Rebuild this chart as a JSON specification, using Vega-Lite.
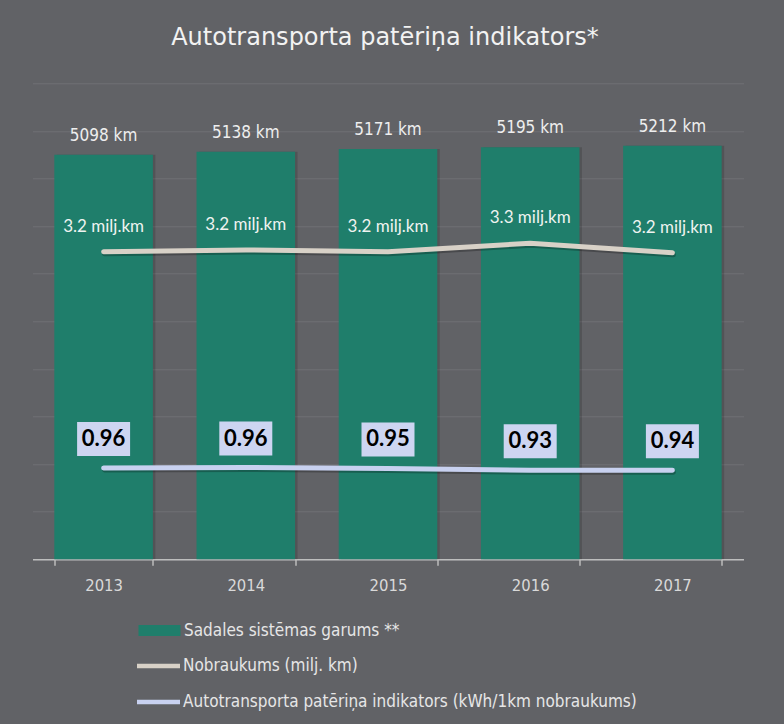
{
  "$schema": "https://vega.github.io/schema/vega-lite/v6.json",
  "width": 711,
  "height": 476,
  "autosize": {"type": "none"},
  "padding": {"left": 32.5, "top": 83.3, "right": 40.5, "bottom": 164.7},
  "background": "#616266",
  "title": {
    "text": "Autotransporta patēriņa indikators*",
    "font": "DejaVu Sans",
    "fontSize": 24,
    "fontWeight": "normal",
    "color": "#F2F2F2",
    "anchor": "middle",
    "baseline": "alphabetic",
    "offset": 14,
    "dx": -3
  },
  "data": {
    "values": [
      {"year": "2013", "km": 5098, "kmLabel": "5098 km", "nob": 3.23, "nobLabel": "3.2 milj.km", "ind": 0.958, "indLabel": "0.96"},
      {"year": "2014", "km": 5138, "kmLabel": "5138 km", "nob": 3.25, "nobLabel": "3.2 milj.km", "ind": 0.964, "indLabel": "0.96"},
      {"year": "2015", "km": 5171, "kmLabel": "5171 km", "nob": 3.23, "nobLabel": "3.2 milj.km", "ind": 0.954, "indLabel": "0.95"},
      {"year": "2016", "km": 5195, "kmLabel": "5195 km", "nob": 3.32, "nobLabel": "3.3 milj.km", "ind": 0.935, "indLabel": "0.93"},
      {"year": "2017", "km": 5212, "kmLabel": "5212 km", "nob": 3.22, "nobLabel": "3.2 milj.km", "ind": 0.936, "indLabel": "0.94"}
    ]
  },
  "encoding": {
    "x": {
      "field": "year",
      "type": "ordinal",
      "scale": {"paddingInner": 0.307, "paddingOuter": 0.1535},
      "axis": {
        "title": null,
        "labelAngle": 0,
        "labelFont": "DejaVu Sans Condensed, Liberation Sans Narrow, sans-serif",
        "labelFontSize": 16.5,
        "labelColor": "#D9D9D9",
        "labelPadding": 12,
        "domainColor": "#BDBDBD",
        "domainWidth": 1.5,
        "tickColor": "#BDBDBD",
        "tickWidth": 1.5,
        "tickSize": 6,
        "tickBand": "extent",
        "grid": false
      }
    }
  },
  "layer": [
    {
      "encoding": {
        "y": {
          "field": "km",
          "type": "quantitative",
          "scale": {"domain": [0, 6000], "nice": false},
          "axis": {
            "values": [0, 600, 1200, 1800, 2400, 3000, 3600, 4200, 4800, 5400, 6000],
            "grid": true,
            "gridColor": "#707175",
            "gridWidth": 1,
            "labels": false,
            "ticks": false,
            "domain": false,
            "title": null
          }
        }
      },
      "layer": [
        {"mark": {"type": "bar", "color": "#000000", "opacity": 0.15, "xOffset": 2.5}},
        {
          "mark": {"type": "bar", "opacity": 1},
          "encoding": {
            "fill": {
              "datum": "Sadales sistēmas garums **",
              "type": "nominal",
              "scale": {"domain": ["Sadales sistēmas garums **"], "range": ["#1F7E6B"]},
              "legend": {
                "orient": "none",
                "legendX": 118.5,
                "legendY": 538.7,
                "title": null,
                "padding": 0,
                "symbolType": "M-2.625,-0.6875L2.625,-0.6875L2.625,0.6875L-2.625,0.6875Z",
                "symbolSize": 256,
                "symbolStrokeWidth": 0,
                "symbolOpacity": 1,
                "labelFont": "DejaVu Sans Condensed, Liberation Sans Narrow, sans-serif",
                "labelFontSize": 17,
                "labelColor": "#E6E6E6",
                "labelOffset": 16,
                "labelLimit": 0
              }
            }
          }
        },
        {
          "mark": {
            "type": "text",
            "font": "DejaVu Sans Condensed, Liberation Sans Narrow, sans-serif",
            "fontSize": 17,
            "color": "#EEEEEE",
            "baseline": "alphabetic",
            "dy": -14
          },
          "encoding": {"text": {"field": "kmLabel"}}
        }
      ]
    },
    {
      "layer": [
        {
          "mark": {"type": "line", "color": "#000000", "opacity": 0.25, "strokeWidth": 5, "strokeCap": "round", "yOffset": 2, "xOffset": 1},
          "encoding": {"y": {"field": "nob", "type": "quantitative", "scale": {"domain": [0, 5], "nice": false}, "axis": null}}
        },
        {
          "mark": {"type": "line", "strokeWidth": 5, "strokeCap": "round"},
          "encoding": {
            "y": {"field": "nob", "type": "quantitative", "scale": {"domain": [0, 5], "nice": false}, "axis": null},
            "stroke": {
              "datum": "Nobraukums (milj. km)",
              "type": "nominal",
              "scale": {
                "domain": ["Nobraukums (milj. km)", "Autotransporta patēriņa indikators (kWh/1km nobraukums)"],
                "range": ["#D8D1C7", "#C8D1F0"]
              },
              "legend": {
                "orient": "none",
                "legendX": 116,
                "legendY": 572.2,
                "title": null,
                "padding": 0,
                "symbolType": "M-2.75,0L2.625,0",
                "symbolSize": 256,
                "symbolStrokeWidth": 4.5,
                "symbolOpacity": 1,
                "labelFont": "DejaVu Sans Condensed, Liberation Sans Narrow, sans-serif",
                "labelFontSize": 17,
                "labelColor": "#E6E6E6",
                "labelOffset": 13.5,
                "labelLimit": 0,
                "rowPadding": 16
              }
            }
          }
        },
        {
          "mark": {"type": "line", "color": "#000000", "opacity": 0.25, "strokeWidth": 5, "strokeCap": "round", "yOffset": 2, "xOffset": 1},
          "encoding": {"y": {"field": "ind", "type": "quantitative", "scale": {"domain": [0, 5], "nice": false}, "axis": null}}
        },
        {
          "mark": {"type": "line", "strokeWidth": 5, "strokeCap": "round"},
          "encoding": {
            "y": {"field": "ind", "type": "quantitative", "scale": {"domain": [0, 5], "nice": false}, "axis": null},
            "stroke": {"datum": "Autotransporta patēriņa indikators (kWh/1km nobraukums)", "type": "nominal"}
          }
        },
        {
          "mark": {"type": "text", "font": "Lato", "fontSize": 17, "color": "#EEF3F0", "baseline": "middle", "dy": -25},
          "encoding": {
            "y": {"field": "nob", "type": "quantitative", "scale": {"domain": [0, 5], "nice": false}, "axis": null},
            "text": {"field": "nobLabel"}
          }
        },
        {
          "mark": {"type": "point", "shape": "M-1,-0.6415L1,-0.6415L1,0.6415L-1,0.6415Z", "size": 2809, "filled": true, "color": "#CDD5F1", "opacity": 1, "strokeWidth": 0, "yOffset": -29},
          "encoding": {
            "y": {"field": "ind", "type": "quantitative", "scale": {"domain": [0, 5], "nice": false}, "axis": null}
          }
        },
        {
          "mark": {"type": "text", "font": "Lato", "fontSize": 22, "fontWeight": "bold", "color": "#000000", "baseline": "middle", "dy": -29},
          "encoding": {
            "y": {"field": "ind", "type": "quantitative", "scale": {"domain": [0, 5], "nice": false}, "axis": null},
            "text": {"field": "indLabel"}
          }
        }
      ]
    }
  ],
  "resolve": {"scale": {"y": "independent"}},
  "config": {"view": {"stroke": null}}
}
